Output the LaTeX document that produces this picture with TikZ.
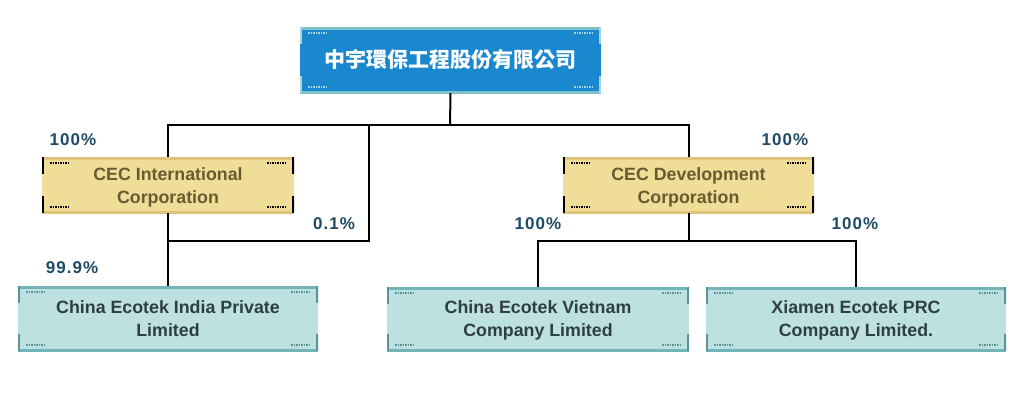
\documentclass[tikz,border=0pt]{standalone}
\usepackage{fontspec}
\setmainfont{Liberation Sans}
\newfontfamily\lblfont[LetterSpace=6]{Liberation Sans}
\newfontfamily\cjk{Noto Sans CJK TC}
\definecolor{rootfill}{HTML}{1A88CF}
\definecolor{rootedge}{HTML}{7CC0C8}
\definecolor{rootbar}{HTML}{A8D4DA}
\definecolor{yfill}{HTML}{F0DD97}
\definecolor{yedge}{HTML}{DCC57A}
\definecolor{ybar}{HTML}{6E6232}
\definecolor{ytext}{HTML}{675C30}
\definecolor{tfill}{HTML}{BDE0E0}
\definecolor{tedge}{HTML}{73B4B8}
\definecolor{tbar}{HTML}{5A9398}
\definecolor{ttext}{HTML}{2F3E40}
\definecolor{lblcol}{HTML}{1D4A66}
\tikzset{
  deco/.style n args={3}{rectangle, inner sep=0pt, align=center, fill=#1,
    path picture={
      \draw[#2, line width=5pt]
        (path picture bounding box.north west) -- (path picture bounding box.north east)
        (path picture bounding box.south west) -- (path picture bounding box.south east);
      \draw[#3, line width=4pt]
        (path picture bounding box.north west) -- ++(0,-17pt)
        (path picture bounding box.south west) -- ++(0,17pt)
        (path picture bounding box.north east) -- ++(0,-17pt)
        (path picture bounding box.south east) -- ++(0,17pt);
      \draw[#3, line width=1.2pt, dash pattern=on 1.5pt off 1pt]
        ([xshift=8pt,yshift=-6pt]path picture bounding box.north west) -- ++(20pt,0)
        ([xshift=-8pt,yshift=-6pt]path picture bounding box.north east) -- ++(-20pt,0)
        ([xshift=8pt,yshift=6pt]path picture bounding box.south west) -- ++(20pt,0)
        ([xshift=-8pt,yshift=6pt]path picture bounding box.south east) -- ++(-20pt,0);
    }},
  rootbox/.style={deco={rootfill}{rootedge}{rootbar}, text=white,
    font=\cjk\bfseries\fontsize{21}{25}\selectfont},
  ybox/.style={deco={yfill}{yedge}{ybar}, text=ytext,
    font=\bfseries\fontsize{17.8}{23}\selectfont,
    text height=40.5pt, text depth=3.5pt},
  tbox/.style={deco={tfill}{tedge}{tbar}, text=ttext,
    font=\bfseries\fontsize{17.8}{23}\selectfont,
    text height=39pt, text depth=3.5pt},
  pct/.style={text=lblcol, font=\lblfont\bfseries\fontsize{17}{20}\selectfont, inner sep=0pt},
  conn/.style={draw=black, line width=2pt}
}
\begin{document}
\begin{tikzpicture}[x=1pt,y=-1pt]
\useasboundingbox (0,0) rectangle (1024,400);
% boxes
\node[rootbox, minimum width=301pt, minimum height=66pt] (root) at (450.5,60) {中宇環保工程股份有限公司};
\node[ybox, minimum width=252pt, minimum height=56pt] (intl) at (168,185) {CEC International\\Corporation};
\node[ybox, minimum width=251pt, minimum height=56pt] (dev) at (688.5,185) {CEC Development\\Corporation};
\node[tbox, minimum width=300pt, minimum height=65pt] (india) at (168,318.5) {China Ecotek India Private\\Limited};
\node[tbox, minimum width=302pt, minimum height=64pt] (viet) at (538,319) {China Ecotek Vietnam\\Company Limited};
\node[tbox, minimum width=300pt, minimum height=64pt] (xia) at (856,319) {Xiamen Ecotek PRC\\Company Limited.};
% junction coordinates
\coordinate (j0) at (450,125);
\coordinate (j1) at (369,125);
\coordinate (j2) at (369,241);
\coordinate (j3) at (688.5,241);
% connectors
\draw[conn] (root.south) -- (j0);
\draw[conn] (intl.north) -- (intl.north |- j0) -- (dev.north |- j0) -- (dev.north);
\draw[conn] (j1) -- (j2) -- (intl.south |- j2);
\draw[conn] (intl.south) -- (india.north);
\draw[conn] (dev.south) -- (j3);
\draw[conn] (viet.north) -- (viet.north |- j3) -- (xia.north |- j3) -- (xia.north);
% labels
\node[pct] (l1) at (73,140) {100\%};
\node[pct] (l2) at (785,140) {100\%};
\node[pct] (l3) at (334,224) {0.1\%};
\node[pct] (l4) at (72,268) {99.9\%};
\node[pct] (l5) at (538,224) {100\%};
\node[pct] (l6) at (855,224) {100\%};
\end{tikzpicture}
\end{document}
